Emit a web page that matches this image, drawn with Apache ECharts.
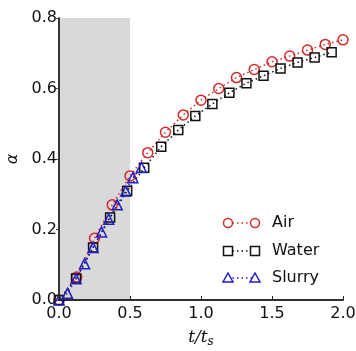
<!DOCTYPE html>
<html>
<head>
<meta charset="utf-8">
<script src="https://cdn.jsdelivr.net/npm/echarts@6/dist/echarts.min.js"></script>
<style>html,body{margin:0;padding:0;background:#fff}#c{width:356px;height:351px}</style>
</head>
<body>
<div id="c"></div>
<script>
const tAir = [0, 0.125, 0.25, 0.375, 0.5, 0.625, 0.75, 0.875, 1.0, 1.125, 1.25, 1.375, 1.5, 1.625, 1.75, 1.875, 2.0];
const aAir = [0, 0.065, 0.175, 0.27, 0.352, 0.418, 0.476, 0.525, 0.567, 0.600, 0.631, 0.654, 0.676, 0.692, 0.709, 0.725, 0.738];
const tWater = [0, 0.12, 0.24, 0.36, 0.48, 0.60, 0.72, 0.84, 0.96, 1.08, 1.20, 1.32, 1.44, 1.56, 1.68, 1.80, 1.92];
const aWater = [0, 0.061, 0.149, 0.234, 0.309, 0.375, 0.435, 0.482, 0.522, 0.556, 0.588, 0.615, 0.636, 0.657, 0.674, 0.688, 0.703];
const tSlurry = [0, 0.06, 0.12, 0.18, 0.24, 0.30, 0.35, 0.41, 0.47, 0.52, 0.58];
const aSlurry = [0, 0.019, 0.060, 0.103, 0.149, 0.193, 0.229, 0.270, 0.309, 0.347, 0.376];
const xTicks = [0, 0.5, 1.0, 1.5, 2.0];
const yTicks = [0, 0.2, 0.4, 0.6, 0.8];
const shadeRange = [0, 0.5];
const seriesNames = ['Air', 'Water', 'Slurry'];

const RED = '#d42a2a', BLK = '#111111', BLUE = '#1f1fc8';
const zip = (a, b) => a.map((v, i) => [v, b[i]]);
const dotted = [1.5, 3];

function mk(name, data, symbol, color, size) {
  return {
    name, type: 'line', data, symbol, symbolSize: size, showAllSymbol: true,
    itemStyle: { color: 'rgba(0,0,0,0)', borderColor: color, borderWidth: 1.5 },
    lineStyle: { color, width: 1.5, type: dotted },
    emphasis: { disabled: true }, animation: false, z: 3
  };
}

const chart = echarts.init(document.getElementById('c'), null, { renderer: 'canvas' });
const font = 'DejaVu Sans';
const legendRows = [
  { name: seriesNames[0], color: RED, kind: 'circle', y: 223 },
  { name: seriesNames[1], color: BLK, kind: 'rect', y: 251 },
  { name: seriesNames[2], color: BLUE, kind: 'tri', y: 278 }
];
const graphics = [];
legendRows.forEach(r => {
  const xs = [228, 255];
  graphics.push({ type: 'line', shape: { x1: xs[0], y1: r.y, x2: xs[1], y2: r.y }, style: { stroke: r.color, lineWidth: 1.5, lineDash: dotted }, z: 10 });
  xs.forEach(x => {
    let el;
    if (r.kind === 'circle') el = { type: 'circle', shape: { cx: x, cy: r.y, r: 4.5 } };
    else if (r.kind === 'rect') el = { type: 'rect', shape: { x: x - 4.5, y: r.y - 4.5, width: 9, height: 9 } };
    else el = { type: 'polygon', shape: { points: [[x, r.y - 5], [x - 5, r.y + 4], [x + 5, r.y + 4]] } };
    el.style = { fill: '#fff', stroke: r.color, lineWidth: 1.5 };
    el.z = 11;
    graphics.push(el);
  });
  graphics.push({ type: 'text', x: 272, y: r.y, style: { text: r.name, font: '16px "DejaVu Sans"', fill: '#111', verticalAlign: 'middle', textAlign: 'left' }, z: 11 });
});

chart.setOption({
  animation: false,
  backgroundColor: '#fff',
  grid: { left: 59, right: 13, top: 18, bottom: 51, show: false, containLabel: false, outerBoundsMode: 'none' },
  xAxis: [{
    type: 'value', min: 0, max: 2, interval: 0.5,
    name: '{t|t/t}{s|s}', nameLocation: 'middle', nameGap: 28,
    nameTextStyle: { rich: {
      t: { fontFamily: 'DejaVu Serif', fontStyle: 'italic', fontSize: 17, color: '#111' },
      s: { fontFamily: 'DejaVu Serif', fontStyle: 'italic', fontSize: 12, color: '#111', padding: [8, 0, 0, 0] }
    } },
    axisLine: { show: true, lineStyle: { color: '#222', width: 1.5 } },
    axisTick: { show: true, inside: true, length: 4, lineStyle: { color: '#222' } },
    axisLabel: { fontFamily: font, fontSize: 16, color: '#111', margin: 6, formatter: v => v.toFixed(1), showMinLabel: true, showMaxLabel: true },
    splitLine: { show: false }, z: 5
  }, {
    type: 'value', position: 'top', min: 0, max: 2,
    axisLine: { show: true, lineStyle: { color: '#222', width: 1.5 } },
    axisTick: { show: false }, axisLabel: { show: false }, splitLine: { show: false }, z: 5
  }],
  yAxis: [{
    type: 'value', min: 0, max: 0.8, interval: 0.2,
    name: 'α', nameLocation: 'middle', nameGap: 38,
    nameTextStyle: { fontFamily: 'DejaVu Sans', fontStyle: 'italic', fontSize: 16, color: '#111' },
    axisLine: { show: true, lineStyle: { color: '#444', width: 1.5 } },
    axisTick: { show: true, inside: false, length: 3, lineStyle: { color: '#444' } },
    axisLabel: { fontFamily: font, fontSize: 16, color: '#111', margin: 2, formatter: v => v.toFixed(1) },
    splitLine: { show: false }, z: 5
  }, {
    type: 'value', position: 'right', min: 0, max: 0.8,
    axisLine: { show: true, lineStyle: { color: '#222', width: 1.5 } },
    axisTick: { show: false }, axisLabel: { show: false }, splitLine: { show: false }, z: 5
  }],
  graphic: graphics,
  series: [
    { type: 'line', data: [], z: 1, silent: true,
      markArea: { silent: true, itemStyle: { color: '#d9d9d9' }, data: [[{ xAxis: shadeRange[0] }, { xAxis: shadeRange[1] }]] } },
    mk(seriesNames[0], zip(tAir, aAir), 'circle', RED, 10),
    mk(seriesNames[1], zip(tWater, aWater), 'rect', BLK, 9),
    mk(seriesNames[2], zip(tSlurry, aSlurry), 'triangle', BLUE, 10)
  ]
});
</script>
</body>
</html>
